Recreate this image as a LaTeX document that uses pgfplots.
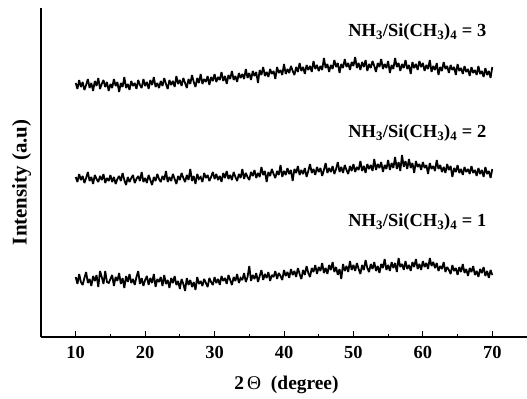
\documentclass[border=0pt]{standalone}
\usepackage{pgfplots}
\pgfplotsset{compat=1.18}
\usepackage{fontspec}
\setmainfont{Liberation Serif}
\begin{document}
\begin{tikzpicture}
\path[use as bounding box] (-41bp,-62bp) rectangle (486bp,337bp);
\begin{axis}[
  scale only axis, width=486bp, height=329bp,
  xmin=5, xmax=75, ymin=0, ymax=329,
  axis x line*=bottom, axis y line*=left,
  axis line style={line width=1.1pt, -},
  xtick={10,20,...,70}, minor xtick={15,25,...,65},
  ytick=\empty,
  tick align=inside,
  major tick length=6bp, minor tick length=3.5bp,
  every tick/.style={line width=1pt, black},
  /pgf/number format/assume math mode=true,
  xticklabel style={font=\fontsize{18.5}{20}\selectfont\bfseries, yshift=-6bp},
  xlabel={2\,{\mdseries Θ}\ \ (degree)},
  xlabel style={font=\fontsize{19.5}{21}\selectfont\bfseries, at={(axis description cs:0.505,0)}, anchor=center, yshift=-48bp},
  ylabel={Intensity (a.u)},
  ylabel style={font=\fontsize{21}{23}\selectfont\bfseries, at={(axis description cs:-0.04,0.47)}, anchor=center, rotate=0},
  clip=false,
]
\addplot[black, line width=1.8pt, line join=miter, miter limit=2] table {
10.00 60
10.25 53
10.50 63
10.75 55
11.00 52
11.25 59
11.50 65
11.75 54
12.00 58
12.25 51
12.50 61
12.75 56
13.00 62
13.25 50
13.50 66
13.75 60
14.00 53
14.25 66
14.50 55
14.75 54
15.00 58
15.25 62
15.50 51
15.75 60
16.00 56
16.25 64
16.50 53
16.75 59
17.00 49
17.25 61
17.50 55
17.75 63
18.00 54
18.25 58
18.50 52
18.75 60
19.00 66
19.25 53
19.50 59
19.75 51
20.00 57
20.25 61
20.50 52
20.75 59
21.00 54
21.25 63
21.50 50
21.75 58
22.00 55
22.25 60
22.50 51
22.75 62
23.00 53
23.25 57
23.50 49
23.75 59
24.00 54
24.25 61
24.50 52
24.75 56
25.00 48
25.25 58
25.50 53
25.75 46
26.00 59
26.25 52
26.50 57
26.75 50
27.00 55
27.25 47
27.50 60
27.75 53
28.00 56
28.25 51
28.50 58
28.75 54
29.00 50
29.25 59
29.50 55
29.75 52
30.00 60
30.25 54
30.50 58
30.75 52
31.00 61
31.25 56
31.50 59
31.75 53
32.00 62
32.25 57
32.50 52
32.75 60
33.00 56
33.25 63
33.50 54
33.75 59
34.00 57
34.25 64
34.50 55
34.75 60
35.00 71
35.25 56
35.50 62
35.75 58
36.00 64
36.25 55
36.50 61
36.75 67
37.00 57
37.25 63
37.50 59
37.75 65
38.00 56
38.25 62
38.50 60
38.75 66
39.00 58
39.25 64
39.50 61
39.75 57
40.00 67
40.25 61
40.50 65
40.75 59
41.00 68
41.25 62
41.50 66
41.75 60
42.00 69
42.25 63
42.50 58
42.75 67
43.00 62
43.25 71
43.50 64
43.75 60
44.00 69
44.25 65
44.50 72
44.75 63
45.00 70
45.25 66
45.50 74
45.75 64
46.00 69
46.25 63
46.50 72
46.75 67
47.00 75
47.25 65
47.50 70
47.75 62
48.00 68
48.25 58
48.50 73
48.75 66
49.00 71
49.25 65
49.50 76
49.75 67
50.00 72
50.25 66
50.50 74
50.75 68
51.00 63
51.25 72
51.50 67
51.75 77
52.00 69
52.25 65
52.50 73
52.75 68
53.00 75
53.25 66
53.50 71
53.75 64
54.00 73
54.25 69
54.50 78
54.75 67
55.00 72
55.25 66
55.50 75
55.75 69
56.00 74
56.25 65
56.50 79
56.75 70
57.00 73
57.25 67
57.50 76
57.75 68
58.00 72
58.25 66
58.50 75
58.75 70
59.00 78
59.25 68
59.50 73
59.75 67
60.00 76
60.25 70
60.50 74
60.75 68
61.00 79
61.25 71
61.50 75
61.75 69
62.00 74
62.25 66
62.50 71
62.75 68
63.00 75
63.25 65
63.50 70
63.75 67
64.00 63
64.25 72
64.50 66
64.75 69
65.00 62
65.25 70
65.50 65
65.75 73
66.00 64
66.25 68
66.50 61
66.75 69
67.00 65
67.25 71
67.50 62
67.75 66
68.00 60
68.25 68
68.50 64
68.75 70
69.00 61
69.25 66
69.50 59
69.75 67
70.00 62
};
\addplot[black, line width=1.8pt, line join=miter, miter limit=2] table {
10.00 160
10.25 155
10.50 163
10.75 157
11.00 161
11.25 154
11.50 159
11.75 165
12.00 156
12.25 160
12.50 153
12.75 162
13.00 158
13.25 155
13.50 161
13.75 157
14.00 163
14.25 154
14.50 159
14.75 156
15.00 162
15.25 155
15.50 160
15.75 153
16.00 158
16.25 161
16.50 156
16.75 164
17.00 157
17.25 152
17.50 160
17.75 155
18.00 159
18.25 162
18.50 154
18.75 158
19.00 161
19.25 156
19.50 165
19.75 155
20.00 159
20.25 154
20.50 162
20.75 157
21.00 152
21.25 160
21.50 156
21.75 163
22.00 158
22.25 155
22.50 161
22.75 157
23.00 166
23.25 155
23.50 160
23.75 156
24.00 163
24.25 158
24.50 153
24.75 161
25.00 157
25.25 164
25.50 159
25.75 155
26.00 162
26.25 157
26.50 168
26.75 156
27.00 161
27.25 153
27.50 163
27.75 158
28.00 160
28.25 155
28.50 164
28.75 159
29.00 162
29.25 156
29.50 160
29.75 165
30.00 158
30.25 163
30.50 157
30.75 161
31.00 155
31.25 164
31.50 159
31.75 166
32.00 158
32.25 162
32.50 157
32.75 165
33.00 160
33.25 156
33.50 163
33.75 159
34.00 168
34.25 158
34.50 164
34.75 160
35.00 157
35.25 165
35.50 161
35.75 167
36.00 159
36.25 164
36.50 160
36.75 170
37.00 162
37.25 166
37.50 155
37.75 165
38.00 161
38.25 168
38.50 163
38.75 159
39.00 166
39.25 162
39.50 172
39.75 160
40.00 166
40.25 162
40.50 169
40.75 163
41.00 167
41.25 156
41.50 168
41.75 164
42.00 171
42.25 162
42.50 167
42.75 163
43.00 169
43.25 160
43.50 166
43.75 173
44.00 164
44.25 168
44.50 162
44.75 170
45.00 165
45.25 169
45.50 161
45.75 167
46.00 174
46.25 164
46.50 169
46.75 165
47.00 171
47.25 163
47.50 168
47.75 175
48.00 165
48.25 170
48.50 164
48.75 172
49.00 167
49.25 163
49.50 171
49.75 166
50.00 173
50.25 165
50.50 170
50.75 167
51.00 176
51.25 166
51.50 171
51.75 164
52.00 173
52.25 168
52.50 172
52.75 166
53.00 178
53.25 167
53.50 173
53.75 169
54.00 175
54.25 165
54.50 172
54.75 168
55.00 177
55.25 167
55.50 174
55.75 169
56.00 180
56.25 168
56.50 175
56.75 166
57.00 182
57.25 170
57.50 176
57.75 168
58.00 178
58.25 169
58.50 174
58.75 164
59.00 176
59.25 170
59.50 173
59.75 167
60.00 175
60.25 169
60.50 172
60.75 163
61.00 174
61.25 168
61.50 171
61.75 166
62.00 177
62.25 168
62.50 172
62.75 165
63.00 170
63.25 164
63.50 173
63.75 167
64.00 171
64.25 160
64.50 169
64.75 165
65.00 172
65.25 164
65.50 168
65.75 162
66.00 170
66.25 165
66.50 168
66.75 163
67.00 171
67.25 164
67.50 167
67.75 161
68.00 169
68.25 163
68.50 167
68.75 160
69.00 170
69.25 163
69.50 166
69.75 159
70.00 168
};
\addplot[black, line width=1.8pt, line join=miter, miter limit=2] table {
10.00 254
10.25 248
10.50 257
10.75 250
11.00 255
11.25 247
11.50 252
11.75 258
12.00 249
12.25 254
12.50 246
12.75 256
13.00 251
13.25 259
13.50 248
13.75 253
14.00 257
14.25 250
14.50 255
14.75 246
15.00 253
15.25 249
15.50 258
15.75 251
16.00 255
16.25 245
16.50 254
16.75 250
17.00 260
17.25 249
17.50 253
17.75 247
18.00 256
18.25 251
18.50 254
18.75 248
19.00 257
19.25 252
19.50 249
19.75 258
20.00 251
20.25 255
20.50 248
20.75 257
21.00 252
21.25 260
21.50 250
21.75 254
22.00 249
22.25 256
22.50 251
22.75 259
23.00 253
23.25 248
23.50 257
23.75 252
24.00 256
24.25 250
24.50 261
24.75 253
25.00 257
25.25 251
25.50 259
25.75 254
26.00 249
26.25 258
26.50 253
26.75 262
27.00 255
27.25 250
27.50 259
27.75 254
28.00 263
28.25 253
28.50 258
28.75 255
29.00 261
29.25 252
29.50 260
29.75 256
30.00 263
30.25 255
30.50 260
30.75 257
31.00 265
31.25 256
31.50 261
31.75 253
32.00 262
32.25 258
32.50 266
32.75 257
33.00 261
33.25 255
33.50 264
33.75 259
34.00 263
34.25 258
34.50 268
34.75 259
35.00 264
35.25 257
35.50 266
35.75 261
36.00 265
36.25 254
36.50 267
36.75 262
37.00 270
37.25 261
37.50 265
37.75 260
38.00 268
38.25 263
38.50 266
38.75 258
39.00 270
39.25 264
39.50 267
39.75 262
40.00 273
40.25 263
40.50 268
40.75 264
41.00 271
41.25 266
41.50 262
41.75 270
42.00 265
42.25 274
42.50 266
42.75 270
43.00 263
43.25 272
43.50 267
43.75 271
44.00 265
44.25 276
44.50 268
44.75 272
45.00 266
45.25 271
45.50 267
45.75 279
46.00 269
46.25 273
46.50 265
46.75 272
47.00 268
47.25 277
47.50 270
47.75 274
48.00 264
48.25 273
48.50 269
48.75 278
49.00 270
49.25 274
49.50 267
49.75 275
50.00 271
50.25 280
50.50 269
50.75 274
51.00 267
51.25 275
51.50 270
51.75 277
52.00 266
52.25 273
52.50 269
52.75 276
53.00 271
53.25 265
53.50 274
53.75 270
54.00 278
54.25 268
54.50 273
54.75 269
55.00 276
55.25 264
55.50 272
55.75 268
56.00 279
56.25 270
56.50 274
56.75 266
57.00 273
57.25 269
57.50 277
57.75 268
58.00 272
58.25 263
58.50 275
58.75 269
59.00 273
59.25 267
59.50 276
59.75 270
60.00 274
60.25 266
60.50 272
60.75 268
61.00 277
61.25 265
61.50 271
61.75 267
62.00 274
62.25 262
62.50 270
62.75 266
63.00 275
63.25 268
63.50 271
63.75 264
64.00 272
64.25 267
64.50 270
64.75 262
65.00 273
65.25 266
65.50 269
65.75 263
66.00 271
66.25 265
66.50 268
66.75 261
67.00 270
67.25 264
67.50 267
67.75 262
68.00 271
68.25 263
68.50 266
68.75 260
69.00 269
69.25 262
69.50 266
69.75 259
70.00 270
};
\node[font=\fontsize{18.5}{20}\selectfont\bfseries, anchor=center] at (axis cs:59.2,305) {NH\textsubscript{3}/Si(CH\textsubscript{3})\textsubscript{4} = 3};
\node[font=\fontsize{18.5}{20}\selectfont\bfseries, anchor=center] at (axis cs:59.2,204) {NH\textsubscript{3}/Si(CH\textsubscript{3})\textsubscript{4} = 2};
\node[font=\fontsize{18.5}{20}\selectfont\bfseries, anchor=center] at (axis cs:59.2,115) {NH\textsubscript{3}/Si(CH\textsubscript{3})\textsubscript{4} = 1};
\end{axis}
\end{tikzpicture}
\end{document}
